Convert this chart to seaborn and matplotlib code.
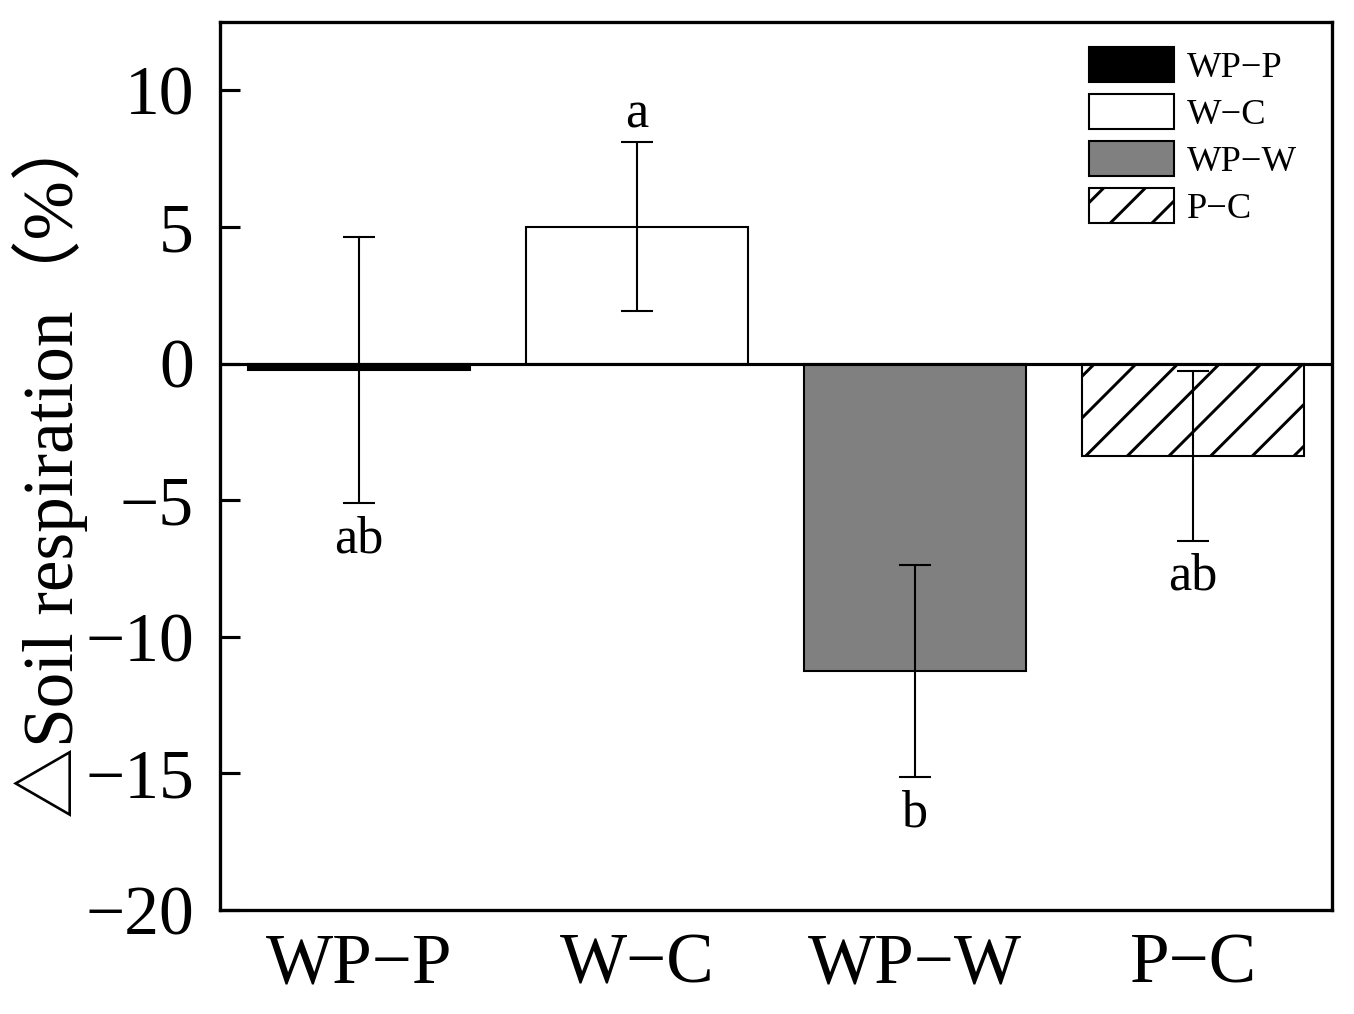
import numpy as np
import pandas as pd
import seaborn as sns
import matplotlib
matplotlib.use("Agg")
import matplotlib.pyplot as plt

# treatments and values
treatments = ["WP\u2212P", "W\u2212C", "WP\u2212W", "P\u2212C"]
delta_resp = [-0.24, 5.01, -11.25, -3.38]
err = [4.87, 3.08, 3.88, 3.10]
letters = ["ab", "a", "b", "ab"]
letter_side = ["below", "above", "below", "below"]

bar_colors = ["#000000", "#ffffff", "#808080", "#ffffff"]

sns.set_style("ticks")
plt.rcParams['font.family'] = ['Liberation Serif', 'Noto Sans CJK SC', 'DejaVu Sans']
plt.rcParams['hatch.linewidth'] = 0.85
plt.rcParams['hatch.color'] = 'black'
for k in ['text.color', 'axes.labelcolor', 'xtick.color', 'ytick.color', 'axes.edgecolor']:
    plt.rcParams[k] = 'black'

df = pd.DataFrame({'treatment': treatments, 'delta': delta_resp})

DPI = 250
fig = plt.figure(figsize=(1354 / DPI, 1014 / DPI), dpi=DPI)
ax = fig.add_axes([220 / 1354, 1 - 910 / 1014, 1112 / 1354, 888 / 1014])

sns.barplot(data=df, x='treatment', y='delta', hue='treatment',
            palette=bar_colors, order=treatments, hue_order=treatments,
            errorbar=None, width=0.8, edgecolor='black', linewidth=0.6,
            legend=False, ax=ax)

bars = ax.patches[:4]
bars[3].set_hatch('//')

# error bars
ax.errorbar(range(len(treatments)), delta_resp, yerr=err, fmt='none',
            ecolor='black', elinewidth=0.6, capsize=4.6, capthick=0.6, zorder=5)

ax.axhline(0, color='black', lw=0.9, zorder=6)

# significance letters
for i, (v, e, lab, side) in enumerate(zip(delta_resp, err, letters, letter_side)):
    if side == "above":
        ax.annotate(lab, xy=(i, v + e), xytext=(0, 4.3), textcoords='offset points',
                    ha='center', va='baseline', fontsize=15)
    else:
        ax.annotate(lab, xy=(i, v - e), xytext=(0, -3.5), textcoords='offset points',
                    ha='center', va='top', fontsize=15)

ax.set_xlim(-0.5, 3.5)
ax.set_ylim(-20, 12.5)
ax.set_yticks([-20, -15, -10, -5, 0, 5, 10])
ax.set_xlabel('')
ax.set_ylabel('\u25b3Soil respiration\uff08%\uff09', fontsize=20.5)
ax.yaxis.set_label_coords((88 - 220) / 1112, 0.503)

ax.tick_params(axis='y', direction='in', length=5.8, width=0.9, pad=7.5, labelsize=20)
ax.tick_params(axis='x', length=0, pad=6.5, labelsize=20.5)
for s in ax.spines.values():
    s.set_linewidth(0.95)
    s.set_color('black')
    s.set_visible(True)

leg = ax.legend(handles=bars, labels=treatments, loc='upper left',
                bbox_to_anchor=((1089 - 220) / 1112, (910 - 47) / 888),
                frameon=False, fontsize=10.5, borderpad=0, borderaxespad=0,
                handlelength=2.33, handleheight=1.1, labelspacing=0.25,
                handletextpad=0.36)

fig.savefig('out.png', dpi=DPI)
